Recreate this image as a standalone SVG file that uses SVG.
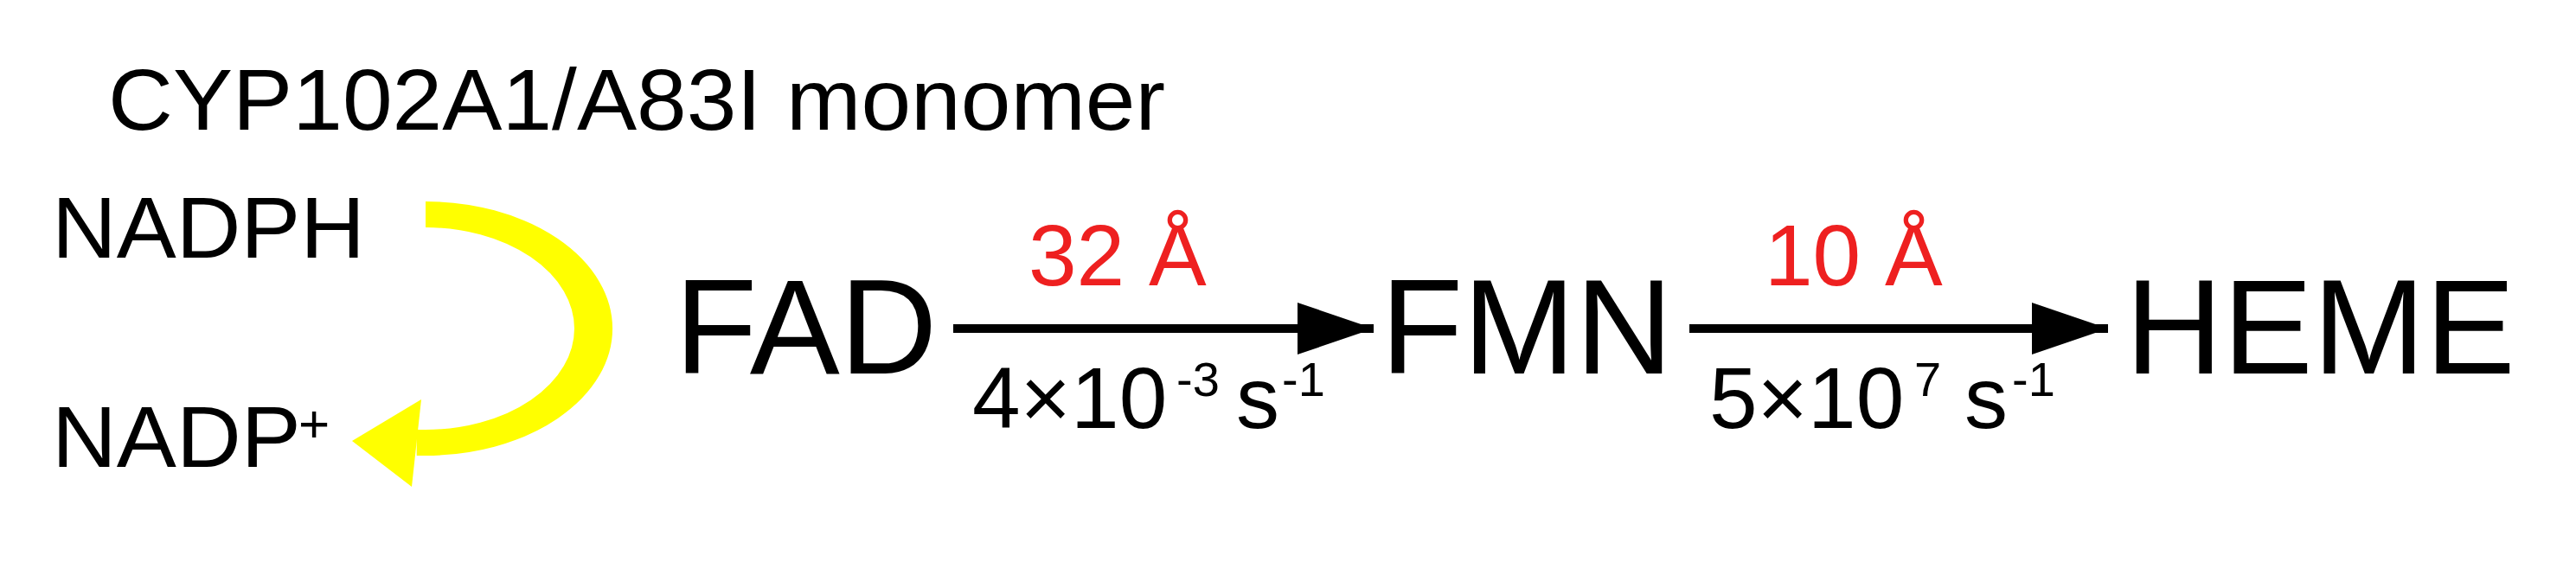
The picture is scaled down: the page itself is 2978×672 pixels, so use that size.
<svg xmlns="http://www.w3.org/2000/svg" width="2978" height="672" viewBox="0 0 2978 672">
<style>
text{font-family:"Liberation Sans",Arial,sans-serif;fill:#000}
.big{font-size:156px}
.mid{font-size:100px}
.red{fill:#ee2020;font-size:100px}
.sup{font-size:56px}
.arr{stroke:#000;stroke-width:10;fill:none}
</style>
<defs>
<marker id="head" markerUnits="userSpaceOnUse" markerWidth="92" markerHeight="64" refX="88" refY="30" orient="auto">
<path d="M0,0 L88,30 L0,60 Z" fill="#000"/>
</marker>
</defs>
<rect width="2978" height="672" fill="#fff"/>
<g id="title"><text class="mid" x="125" y="150" textLength="1222" lengthAdjust="spacingAndGlyphs">CYP102A1/A83I monomer</text></g>
<g id="nadph"><text class="mid" x="60" y="298" textLength="362" lengthAdjust="spacingAndGlyphs">NADPH</text></g>
<g id="nadp"><text x="60" y="540"><tspan class="mid" textLength="288" lengthAdjust="spacingAndGlyphs">NADP</tspan><tspan x="345" y="511" style="font-size:62px">+</tspan></text></g>
<g id="fad"><text class="big" x="780" y="432">FAD</text></g>
<g id="fmn"><text class="big" x="1596" y="432">FMN</text></g>
<g id="heme"><text class="big" x="2457" y="432">HEME</text></g>
<g id="connectors">
<g transform="translate(492,380) scale(1.47,1)">
<path d="M0,-132 A132,132 0 0 1 0,132 L-7,132" stroke="#ffff00" stroke-width="30" fill="none"/>
</g>
<polygon points="407,510 487,462 476,563" fill="#ffff00"/>
<line class="arr" x1="1102" y1="380" x2="1588" y2="380" marker-end="url(#head)"/>
<line class="arr" x1="1953" y1="380" x2="2437" y2="380" marker-end="url(#head)"/>
</g>
<g id="labels">
<text class="red" x="1189" y="330">32 Å</text>
<text class="red" x="2040" y="330">10 Å</text>
<text class="mid" x="1124" y="495">4×10<tspan class="sup" x="1360" y="458">-3</tspan><tspan x="1429" y="495">s</tspan><tspan class="sup" x="1482" y="458">-1</tspan></text>
<text class="mid" x="1976" y="495">5×10<tspan class="sup" x="2213" y="458">7</tspan><tspan x="2271" y="495">s</tspan><tspan class="sup" x="2326" y="458">-1</tspan></text>
</g>
</svg>
